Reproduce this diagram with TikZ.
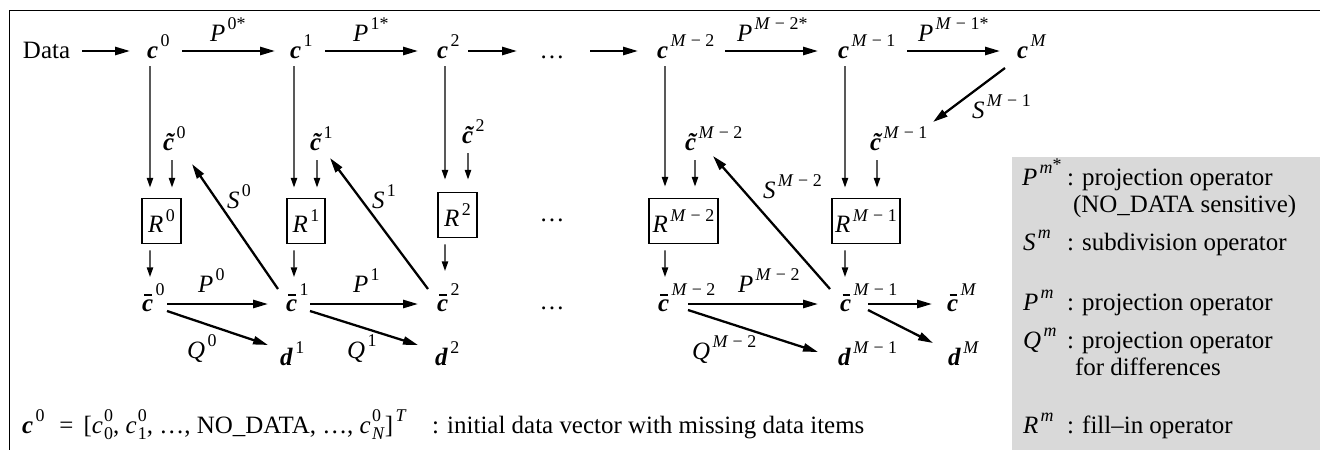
\documentclass[tikz,border=0pt]{standalone}
\usepackage{fontspec}
\setmainfont{Liberation Serif}
\usetikzlibrary{arrows.meta,calc}
\definecolor{legendgray}{gray}{0.85}
\newcommand{\bc}{\textbf{\textit{c}}}
\newcommand{\bd}{\textbf{\textit{d}}}
\newcommand{\tc}{\textbf{\textit{\makebox[0pt][l]{\hspace{0.09em}˜}c}}}
\newcommand{\barc}{\textbf{\textit{\makebox[0pt][l]{\hspace{0.1em}\raisebox{0.6em}{\rule{0.3em}{0.07em}}}c}}}
\newcommand{\up}[1]{\hspace{0.1em}\raisebox{6.3pt}{\fontsize{10.2}{12}\selectfont #1}}
\newcommand{\upb}[1]{\hspace{0.1em}\raisebox{8.6pt}{\fontsize{10.2}{12}\selectfont #1}}
\newcommand{\Mm}[1]{\textit{M} − #1}
\newcommand{\supsub}[2]{\hspace{0.05em}\rlap{\raisebox{6.3pt}{\fontsize{10.2}{12}\selectfont #1}}\raisebox{-3.5pt}{\fontsize{10.2}{12}\selectfont #2}}
\begin{document}
\begin{tikzpicture}[x=0.02cm,y=-0.02cm,
  every node/.style={inner sep=0pt, outer sep=0pt, font=\fontsize{14.2}{17}\selectfont},
  lbl/.style={anchor=base west},
  thickarr/.style={line width=1.3pt, -{Triangle[length=8.5pt,width=4.6pt]}},
  thinarr/.style={line width=0.8pt, -{Triangle[length=5.5pt,width=3.6pt]}},
  opbox/.style={draw, line width=0.8pt, minimum height=0.9cm},
  framestyle/.style={line width=0.9pt}]
\useasboundingbox (0,0) rectangle (1320,450);
\clip (0,0) rectangle (1320,450);
% frame and legend background
\draw[framestyle] (9.5,470) -- (9.5,10.5) -- (1340,10.5);
\fill[legendgray] (1012,157) rectangle (1340,470);

% row 1
\node[lbl] (data) at (23,58) {Data};
\node[lbl] (c0) at (147,58) {\bc\up{0}};
\node[lbl] (c1) at (290,58) {\bc\up{1}};
\node[lbl] (c2) at (437,58) {\bc\up{2}};
\node[anchor=base] (dotsA) at (552,58) {…};
\node[lbl] (cM2) at (657,58) {\bc\up{\Mm{2}}};
\node[lbl] (cM1) at (838,58) {\bc\up{\Mm{1}}};
\node[lbl] (cM) at (1017,58) {\bc\up{\textit{M}}};

\draw[thickarr] ($(data.base east)+(12,-7)$) -- ($(c0.base west)+(-17,-7)$);
\draw[thickarr] ($(c0.base west)+(35,-7)$) -- ($(c1.base west)+(-15,-7)$);
\draw[thickarr] ($(c1.base west)+(35,-7)$) -- ($(c2.base west)+(-19,-7)$);
\draw[thickarr] ($(c2.base west)+(31,-7)$) -- ($(dotsA.base)+(-35,-7)$);
\draw[thickarr] ($(dotsA.base)+(38,-7)$) -- ($(cM2.base west)+(-19,-7)$);
\draw[thickarr] ($(cM2.base west)+(68,-7)$) -- ($(cM1.base west)+(-20,-7)$);
\draw[thickarr] ($(cM1.base west)+(69,-7)$) -- ($(cM.base west)+(-17,-7)$);

\node[lbl] (pA) at (210,41) {\textit{P}\up{0*}};
\node[lbl] (pB) at (353,41) {\textit{P}\up{1*}};
\node[lbl] (pC) at (737,41) {\textit{P}\up{\Mm{2}*}};
\node[lbl] (pD) at (918,41) {\textit{P}\up{\Mm{1}*}};

% tilde row
\node[lbl] (ct0) at (163,150) {\tc\up{0}};
\node[lbl] (ct1) at (310,150) {\tc\up{1}};
\node[lbl] (ct2) at (462,143) {\tc\up{2}};
\node[lbl] (ctM2) at (685,150) {\tc\up{\Mm{2}}};
\node[lbl] (ctM1) at (870,150) {\tc\up{\Mm{1}}};

% R boxes
\node[opbox, minimum width=0.78cm] (R0) at (161.5,221) {\textit{R}\up{0}};
\node[opbox, minimum width=0.76cm] (R1) at (306,221) {\textit{R}\up{1}};
\node[opbox, minimum width=0.78cm] (R2) at (457.5,215) {\textit{R}\up{2}};
\node[anchor=base] (dotsB) at (552,221) {…};
\node[opbox, minimum width=1.38cm] (RM2) at (683.5,221) {\textit{R}\up{\Mm{2}}};
\node[opbox, minimum width=1.36cm] (RM1) at (866,221) {\textit{R}\up{\Mm{1}}};

% long vertical arrows
\draw[thinarr] ($(c0.base west)+(3,8)$) -- ($(R0.north west)+(8,-11)$);
\draw[thinarr] ($(c1.base west)+(4,8)$) -- ($(R1.north west)+(7,-11)$);
\draw[thinarr] ($(c2.base west)+(8,8)$) -- ($(R2.north west)+(7,-13)$);
\draw[thinarr] ($(cM2.base west)+(8,8)$) -- ($(RM2.north west)+(16,-12)$);
\draw[thinarr] ($(cM1.base west)+(7,8)$) -- ($(RM1.north west)+(13,-11)$);

% short arrows from tilde c
\draw[thinarr] ($(ct0.base west)+(9,10)$) -- ($(R0.north west)+(30,-11)$);
\draw[thinarr] ($(ct1.base west)+(7,10)$) -- ($(R1.north west)+(30,-11)$);
\draw[thinarr] ($(ct2.base west)+(6,10)$) -- ($(R2.north west)+(30,-13)$);
\draw[thinarr] ($(ctM2.base west)+(10,10)$) -- ($(RM2.north west)+(46,-12)$);
\draw[thinarr] ($(ctM1.base west)+(7,10)$) -- ($(RM1.north west)+(45,-11)$);

% bar row
\node[lbl] (cb0) at (142,311) {\barc\upb{0}};
\node[lbl] (cb1) at (286,311) {\barc\upb{1}};
\node[lbl] (cb2) at (437,311) {\barc\upb{2}};
\node[anchor=base] (dotsC) at (552,309) {…};
\node[lbl] (cbM2) at (658,311) {\barc\upb{\Mm{2}}};
\node[lbl] (cbM1) at (840,311) {\barc\upb{\Mm{1}}};
\node[lbl] (cbM) at (947,311) {\barc\upb{\textit{M}}};

% arrows below R
\draw[thinarr] ($(R0.south west)+(8,7)$) -- ($(cb0.base west)+(8,-34)$);
\draw[thinarr] ($(R1.south west)+(7,7)$) -- ($(cb1.base west)+(8,-34)$);
\draw[thinarr] ($(R2.south west)+(7,7)$) -- ($(cb2.base west)+(8,-40)$);
\draw[thinarr] ($(RM2.south west)+(16,7)$) -- ($(cbM2.base west)+(7,-34)$);
\draw[thinarr] ($(RM1.south west)+(13,7)$) -- ($(cbM1.base west)+(5,-34)$);

% d row
\node[lbl] (d1) at (280,365) {\bd\up{1}};
\node[lbl] (d2) at (435,365) {\bd\up{2}};
\node[lbl] (dM1) at (838,365) {\bd\up{\Mm{1}}};
\node[lbl] (dM) at (948,365) {\bd\up{\textit{M}}};

% P arrows
\draw[thickarr] ($(cb0.base west)+(25,-7)$) -- ($(cb1.base west)+(-18,-7)$);
\draw[thickarr] ($(cb1.base west)+(24,-7)$) -- ($(cb2.base west)+(-19,-7)$);
\draw[thickarr] ($(cbM2.base west)+(30,-7)$) -- ($(cbM1.base west)+(-22,-7)$);
\draw[thickarr] ($(cbM1.base west)+(28,-7)$) -- ($(cbM.base west)+(-15,-7)$);
% Q arrows
\draw[thickarr] ($(cb0.base west)+(25,0)$) -- ($(d1.base west)+(-12,-20)$);
\draw[thickarr] ($(cb1.base west)+(24,0)$) -- ($(d2.base west)+(-17,-20)$);
\draw[thickarr] ($(cbM2.base west)+(30,-1)$) -- ($(dM1.base west)+(-20,-13)$);
\draw[thickarr] ($(cbM1.base west)+(28,-1)$) -- ($(dM.base west)+(-15,-22)$);
% S arrows
\draw[thickarr] ($(cb1.base west)+(-8,-22)$) -- ($(ct0.base west)+(29,14)$);
\draw[thickarr] ($(cb2.base west)+(-9,-22)$) -- ($(ct1.base west)+(20,8)$);
\draw[thickarr] ($(cbM1.base west)+(-10,-22)$) -- ($(ctM2.base west)+(28,6)$);
\draw[thickarr] ($(cM.base west)+(-12,10)$) -- ($(ctM1.base west)+(63,-28)$);

% operator labels
\node[lbl] (lP0) at (198,292) {\textit{P}\up{0}};
\node[lbl] (lP1) at (353,292) {\textit{P}\up{1}};
\node[lbl] (lPM2) at (738,292) {\textit{P}\up{\Mm{2}}};
\node[lbl] (lQ0) at (187,358) {\textit{Q}\up{0}};
\node[lbl] (lQ1) at (347,358) {\textit{Q}\up{1}};
\node[lbl] (lQM2) at (692,359) {\textit{Q}\up{\Mm{2}}};
\node[lbl] (lS0) at (227,208) {\textit{S}\up{0}};
\node[lbl] (lS1) at (372,208) {\textit{S}\up{1}};
\node[lbl] (lSM2) at (763,198) {\textit{S}\up{\Mm{2}}};
\node[lbl] (lSM1) at (972,118) {\textit{S}\up{\Mm{1}}};

% bottom line
\node[lbl] (init) at (22,433) {\bc\up{0}\hspace{0.6em}=\hspace{0.4em}[\textit{c}\supsub{0}{0}, \textit{c}\supsub{0}{1}, …, NO\_DATA, …, \textit{c}\supsub{0}{\textit{N}}]\up{\textit{T}}};
\node[lbl] (inittxt) at (432,433) {: initial data vector with missing data items};

% legend
\node[lbl] (g1s) at (1022,185) {\textit{P}\up{\textit{m}\raisebox{2pt}{*}}};
\node[lbl] (g1t) at (1067,185) {: projection operator};
\node[lbl] (g1b) at (1073,212) {(NO\_DATA sensitive)};
\node[lbl] (g2s) at (1023,250) {\textit{S}\up{\textit{m}}};
\node[lbl] (g2t) at (1067,250) {: subdivision operator};
\node[lbl] (g3s) at (1023,310) {\textit{P}\up{\textit{m}}};
\node[lbl] (g3t) at (1067,310) {: projection operator};
\node[lbl] (g4s) at (1023,348) {\textit{Q}\up{\textit{m}}};
\node[lbl] (g4t) at (1067,348) {: projection operator};
\node[lbl] (g4b) at (1075,375) {for differences};
\node[lbl] (g5s) at (1023,433) {\textit{R}\up{\textit{m}}};
\node[lbl] (g5t) at (1067,433) {: fill–in operator};
\end{tikzpicture}
\end{document}
